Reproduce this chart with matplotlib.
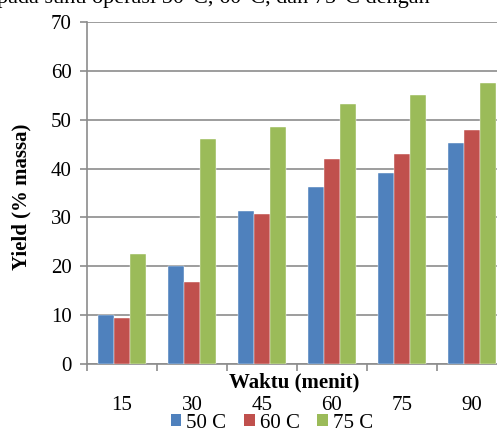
import numpy as np
import matplotlib.pyplot as plt
from matplotlib.patches import Patch

plt.rcParams['font.family'] = ['Liberation Serif', 'DejaVu Serif']

waktu = ['15', '30', '45', '60', '75', '90']
suhu = ['50 C', '60 C', '75 C']
yield_50 = [10.0, 20.1, 31.4, 36.2, 39.0, 45.2]
yield_60 = [9.5, 16.8, 30.8, 42.0, 43.0, 47.8]
yield_75 = [22.6, 46.1, 48.6, 53.2, 55.0, 57.5]
warna = ['#4F81BD', '#C0504D', '#9BBB59']

fig = plt.figure(figsize=(4.97, 4.33), dpi=100)
ax = fig.add_axes([87/497, 1 - 364/433, 420/497, 342/433])

x = np.arange(len(waktu))
w = 0.225
for i, (vals, c) in enumerate(zip([yield_50, yield_60, yield_75], warna)):
    ax.bar(x + (i - 1) * w, vals, w, color=c, edgecolor='white', linewidth=0.3, zorder=3)

ax.set_xlim(-0.5, len(waktu) - 0.5)
ax.set_ylim(0, 70)
ax.set_yticks(range(0, 71, 10))
ax.yaxis.grid(True, color='#8c8c8c', linewidth=1.2, zorder=0)

# garis tick di batas antar kategori, label di tengah
ax.set_xticks(np.arange(len(waktu) + 1) - 0.5)
ax.set_xticklabels([])
ax.set_xticks(x, minor=True)
ax.set_xticklabels(waktu, minor=True, fontsize=15)
ax.tick_params(axis='x', which='minor', length=0, pad=23)
ax.tick_params(axis='x', which='major', length=5, width=1.2, color='#8c8c8c')
ax.tick_params(axis='y', length=5, width=1.2, color='#8c8c8c', labelsize=15, pad=6)

for s in ['top', 'right']:
    ax.spines[s].set_visible(False)
for s in ['left', 'bottom']:
    ax.spines[s].set_color('#8c8c8c')
    ax.spines[s].set_linewidth(1.2)

fig.text(294/497, 1 - 382/433, 'Waktu (menit)', ha='center', va='center',
         fontsize=15, fontweight='bold')
fig.text(21/497, 1 - 197/433, 'Yield (% massa)', ha='center', va='center',
         rotation=90, fontsize=15, fontweight='bold')

# potongan kalimat di atas grafik
fig.text(-3/497, 1 - 3/433, 'pada suhu operasi 50°C, 60°C, dan 75°C dengan',
         ha='left', va='baseline', fontsize=16)

handles = [Patch(facecolor=c, label=s) for c, s in zip(warna, suhu)]
fig.legend(handles=handles, loc='center', bbox_to_anchor=(272/497, 1 - 423/433),
           ncol=3, frameon=False, fontsize=15, handlelength=0.5, handleheight=0.5,
           handletextpad=0.25, columnspacing=0.85, borderpad=0)

fig.savefig('out.png', dpi=100)
